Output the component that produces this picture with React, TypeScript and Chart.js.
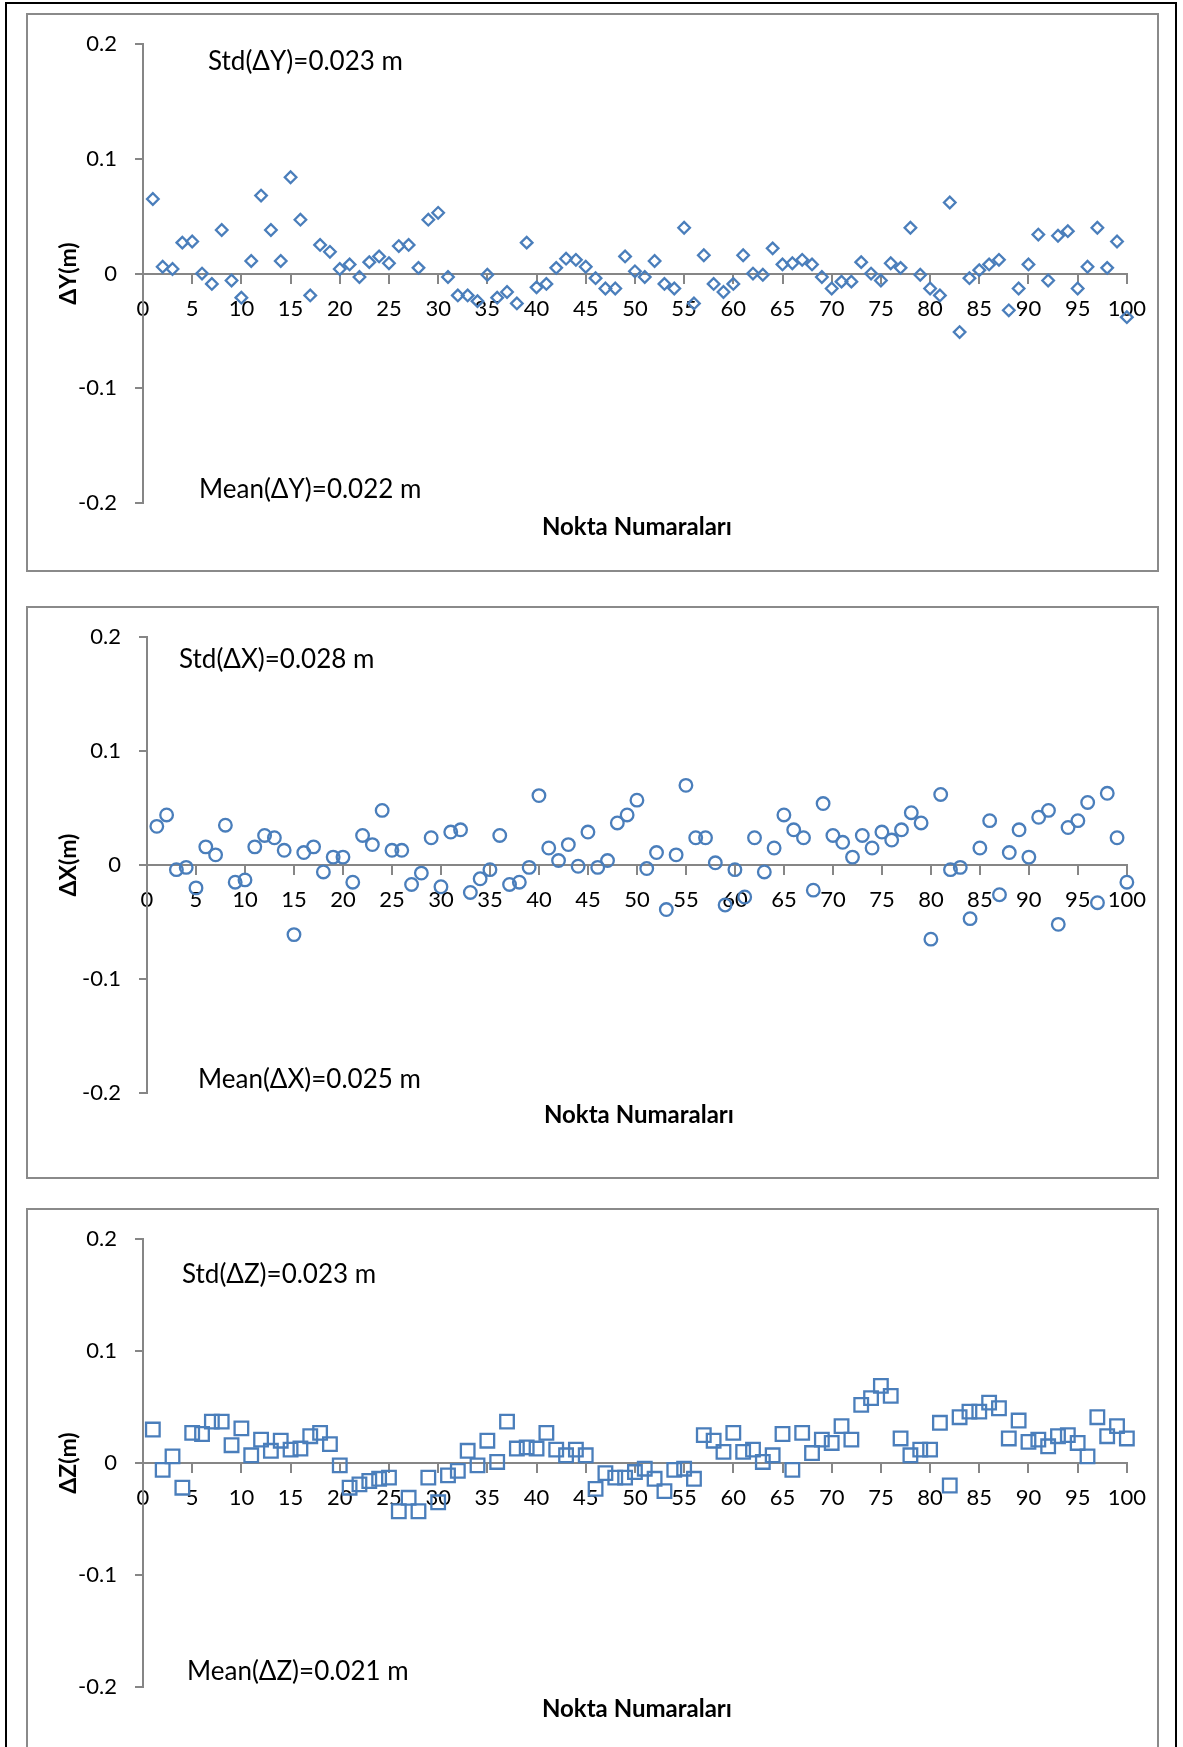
import React, { useEffect, useRef } from "react";
import { Chart, registerables } from "chart.js";

Chart.register(...registerables);

// ---------- data ----------
const pointNumbers = [
  1, 2, 3, 4, 5, 6, 7, 8, 9, 10, 11, 12, 13, 14, 15, 16, 17, 18, 19, 20,
  21, 22, 23, 24, 25, 26, 27, 28, 29, 30, 31, 32, 33, 34, 35, 36, 37, 38, 39, 40,
  41, 42, 43, 44, 45, 46, 47, 48, 49, 50, 51, 52, 53, 54, 55, 56, 57, 58, 59, 60,
  61, 62, 63, 64, 65, 66, 67, 68, 69, 70, 71, 72, 73, 74, 75, 76, 77, 78, 79, 80,
  81, 82, 83, 84, 85, 86, 87, 88, 89, 90, 91, 92, 93, 94, 95, 96, 97, 98, 99, 100,
];

const xTickValues = [0, 5, 10, 15, 20, 25, 30, 35, 40, 45, 50, 55, 60, 65, 70, 75, 80, 85, 90, 95, 100];
const xTickLabels = ["0", "5", "10", "15", "20", "25", "30", "35", "40", "45", "50", "55", "60", "65", "70", "75", "80", "85", "90", "95", "100"];
const yTickValues = [-0.2, -0.1, 0, 0.1, 0.2];
const yTickLabels = ["-0.2", "-0.1", "0", "0.1", "0.2"];

const deltaY = [
  0.065, 0.006, 0.004, 0.027, 0.028, 0.0, -0.009, 0.038, -0.006, -0.021,
  0.011, 0.068, 0.038, 0.011, 0.084, 0.047, -0.019, 0.025, 0.019, 0.004,
  0.008, -0.003, 0.01, 0.015, 0.009, 0.024, 0.025, 0.005, 0.047, 0.053,
  -0.003, -0.019, -0.019, -0.024, -0.001, -0.021, -0.016, -0.026, 0.027, -0.012,
  -0.009, 0.005, 0.013, 0.012, 0.006, -0.004, -0.013, -0.013, 0.015, 0.002,
  -0.003, 0.011, -0.009, -0.013, 0.04, -0.026, 0.016, -0.009, -0.016, -0.009,
  0.016, 0.0, -0.001, 0.022, 0.008, 0.009, 0.012, 0.008, -0.003, -0.013,
  -0.007, -0.007, 0.01, 0.0, -0.006, 0.009, 0.005, 0.04, -0.001, -0.013,
  -0.019, 0.062, -0.051, -0.004, 0.003, 0.008, 0.012, -0.032, -0.013, 0.008,
  0.034, -0.006, 0.033, 0.037, -0.013, 0.006, 0.04, 0.005, 0.028, -0.038,
];

const deltaX = [
  0.034, 0.044, -0.004, -0.002, -0.02, 0.016, 0.009, 0.035, -0.015, -0.013,
  0.016, 0.026, 0.024, 0.013, -0.061, 0.011, 0.016, -0.006, 0.007, 0.007,
  -0.015, 0.026, 0.018, 0.048, 0.013, 0.013, -0.017, -0.007, 0.024, -0.019,
  0.029, 0.031, -0.024, -0.012, -0.004, 0.026, -0.017, -0.015, -0.002, 0.061,
  0.015, 0.004, 0.018, -0.001, 0.029, -0.002, 0.004, 0.037, 0.044, 0.057,
  -0.003, 0.011, -0.039, 0.009, 0.07, 0.024, 0.024, 0.002, -0.035, -0.004,
  -0.028, 0.024, -0.006, 0.015, 0.044, 0.031, 0.024, -0.022, 0.054, 0.026,
  0.02, 0.007, 0.026, 0.015, 0.029, 0.022, 0.031, 0.046, 0.037, -0.065,
  0.062, -0.004, -0.002, -0.047, 0.015, 0.039, -0.026, 0.011, 0.031, 0.007,
  0.042, 0.048, -0.052, 0.033, 0.039, 0.055, -0.033, 0.063, 0.024, -0.015,
];

const deltaZ = [
  0.03, -0.006, 0.006, -0.022, 0.027, 0.026, 0.037, 0.037, 0.016, 0.031,
  0.007, 0.021, 0.011, 0.02, 0.012, 0.013, 0.024, 0.027, 0.017, -0.002,
  -0.022, -0.019, -0.016, -0.014, -0.013, -0.043, -0.031, -0.043, -0.013, -0.035,
  -0.011, -0.007, 0.011, -0.002, 0.02, 0.001, 0.037, 0.013, 0.014, 0.013,
  0.027, 0.012, 0.007, 0.012, 0.007, -0.023, -0.009, -0.013, -0.013, -0.008,
  -0.005, -0.014, -0.025, -0.006, -0.005, -0.014, 0.025, 0.02, 0.01, 0.027,
  0.01, 0.012, 0.001, 0.007, 0.026, -0.006, 0.027, 0.009, 0.021, 0.018,
  0.033, 0.021, 0.052, 0.058, 0.069, 0.06, 0.022, 0.007, 0.012, 0.012,
  0.036, -0.02, 0.041, 0.046, 0.046, 0.054, 0.049, 0.022, 0.038, 0.019,
  0.021, 0.015, 0.024, 0.025, 0.018, 0.006, 0.041, 0.024, 0.033, 0.022,
];

const stdLabels = ["Std(ΔY)=0.023 m", "Std(ΔX)=0.028 m", "Std(ΔZ)=0.023 m"];
const meanLabels = ["Mean(ΔY)=0.022 m", "Mean(ΔX)=0.025 m", "Mean(ΔZ)=0.021 m"];
const yTitles = ["ΔY(m)", "ΔX(m)", "ΔZ(m)"];
const xTitle = "Nokta Numaraları";

// ---------- styles / layout ----------
const BLUE = "#4A7EBB";
const AXIS = "#868686";
const FONT = "Lato";

type Layout = {
  left: number; top: number; width: number; height: number;
  x0: number; x100: number; yTop: number; yBot: number;
  stdX: number; stdY: number; meanX: number; meanY: number;
  xTitleY: number; yTitleX: number;
  pointStyle: string; radius: number;
};

const layouts: Layout[] = [
  { left: 26, top: 13, width: 1133, height: 559, x0: 143, x100: 1129, yTop: 42, yBot: 503,
    stdX: 208, stdY: 62, meanX: 199, meanY: 490, xTitleY: 527, yTitleX: 69, pointStyle: "rectRot", radius: 5.8 },
  { left: 26, top: 606, width: 1133, height: 573, x0: 147, x100: 1129, yTop: 636, yBot: 1093,
    stdX: 179, stdY: 660, meanX: 198, meanY: 1080, xTitleY: 1115, yTitleX: 69, pointStyle: "circle", radius: 6.3 },
  { left: 26, top: 1208, width: 1133, height: 580, x0: 143, x100: 1129, yTop: 1227, yBot: 1687,
    stdX: 182, stdY: 1275, meanX: 187, meanY: 1672, xTitleY: 1709, yTitleX: 69, pointStyle: "rect", radius: 9.6 },
];

const textPlugin = {
  id: "panelText",
  afterDraw(chart: any, _args: any, opts: any) {
    const ctx = chart.ctx as CanvasRenderingContext2D;
    const area = chart.chartArea;
    ctx.save();
    ctx.fillStyle = "#000";
    ctx.textBaseline = "middle";
    ctx.textAlign = "left";
    ctx.font = `26px ${FONT}`;
    ctx.fillText(opts.std, opts.stdX, opts.stdY);
    ctx.fillText(opts.mean, opts.meanX, opts.meanY);
    ctx.font = `bold 24px ${FONT}`;
    ctx.textAlign = "center";
    ctx.fillText(opts.xTitle, (area.left + area.right) / 2 + 2, opts.xTitleY);
    const zeroY = chart.scales.y.getPixelForValue(0);
    ctx.translate(opts.yTitleX, zeroY);
    ctx.rotate(-Math.PI / 2);
    ctx.font = `bold 23px ${FONT}`;
    ctx.fillText(opts.yTitle, 0, 0);
    ctx.restore();
  },
};

function Panel({ values, idx }: { values: number[]; idx: number }) {
  const ref = useRef<HTMLCanvasElement>(null);
  const L = layouts[idx];
  useEffect(() => {
    const canvas = ref.current!;
    const areaLeft = L.x0 - L.left;
    const areaRight = L.x100 - L.left;
    const areaTop = L.yTop - L.top;
    const areaBottom = L.yBot - L.top;
    const tickFont = { family: FONT, size: 22 };
    const chart = new Chart(canvas, {
      type: "scatter",
      data: {
        datasets: [
          {
            data: pointNumbers.map((n, i) => ({ x: n, y: values[i] })),
            pointStyle: L.pointStyle as any,
            pointRadius: L.radius,
            pointHoverRadius: L.radius,
            pointBorderWidth: 2.3,
            borderColor: BLUE,
            backgroundColor: "rgba(0,0,0,0)",
            showLine: false,
            clip: false as any,
          },
        ],
      },
      options: {
        responsive: false,
        animation: false,
        events: [],
        layout: {
          padding: { left: 0, top: areaTop, right: L.width - areaRight, bottom: L.height - areaBottom },
        },
        plugins: {
          legend: { display: false },
          tooltip: { enabled: false },
          panelText: {
            std: stdLabels[idx], mean: meanLabels[idx], yTitle: yTitles[idx], xTitle,
            stdX: L.stdX - L.left, stdY: L.stdY - L.top,
            meanX: L.meanX - L.left, meanY: L.meanY - L.top,
            xTitleY: L.xTitleY - L.top, yTitleX: L.yTitleX - L.left,
          },
        } as any,
        scales: {
          x: {
            type: "linear",
            axis: "x",
            position: { y: 0 } as any,
            min: 0,
            max: 100,
            afterBuildTicks: (s: any) => { s.ticks = xTickValues.map((v) => ({ value: v })); },
            ticks: {
              callback: (_v: any, i: number) => xTickLabels[i],
              font: tickFont, color: "#000", padding: 13, maxRotation: 0, autoSkip: false,
            },
            grid: { drawOnChartArea: false, drawTicks: true, tickLength: 9, color: AXIS, lineWidth: 2 },
            border: { display: true, color: AXIS, width: 2 },
          },
          y: {
            type: "linear",
            position: "left",
            min: -0.2,
            max: 0.2,
            afterBuildTicks: (s: any) => { s.ticks = yTickValues.map((v) => ({ value: v })); },
            afterFit: (s: any) => { s.width = areaLeft; },
            ticks: {
              callback: (_v: any, i: number) => yTickLabels[i],
              font: tickFont, color: "#000", padding: 18,
            },
            grid: { drawOnChartArea: false, drawTicks: true, tickLength: 8, color: AXIS, lineWidth: 2 },
            border: { display: true, color: AXIS, width: 2 },
          },
        },
      } as any,
      plugins: [textPlugin as any],
    });
    return () => chart.destroy();
  }, []);
  return (
    <>
      <div
        style={{
          position: "absolute", left: L.left, top: L.top, width: L.width, height: L.height,
          border: "2px solid #8a8a8a", boxSizing: "border-box", background: "#fff",
        }}
      />
      <canvas
        ref={ref}
        width={L.width}
        height={L.height}
        style={{ position: "absolute", left: L.left, top: L.top, width: L.width, height: L.height }}
      />
    </>
  );
}

export default function App() {
  return (
    <div
      style={{
        position: "absolute", left: 0, top: 0, width: 1183, height: 1747,
        overflow: "hidden", background: "#fff",
      }}
    >
      <div
        style={{
          position: "absolute", left: 5, top: 2, width: 1172, height: 1800,
          border: "2px solid #000", boxSizing: "border-box",
        }}
      />
      <Panel values={deltaY} idx={0} />
      <Panel values={deltaX} idx={1} />
      <Panel values={deltaZ} idx={2} />
    </div>
  );
}
